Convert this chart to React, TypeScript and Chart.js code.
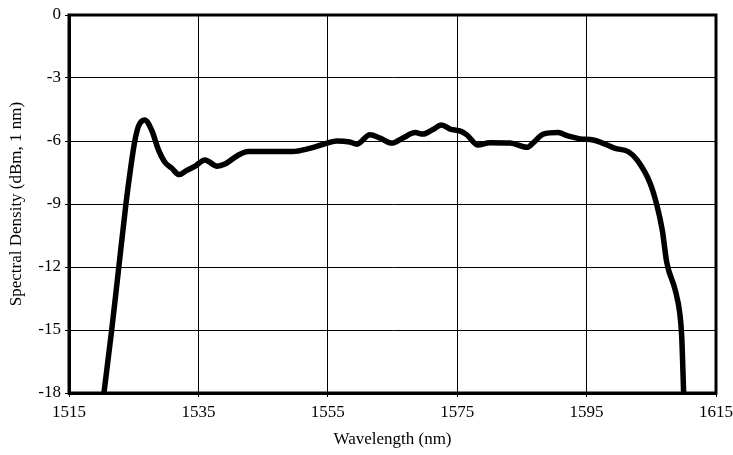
import React, { useEffect, useRef } from "react";
import { Chart, registerables } from "chart.js";

Chart.register(...registerables);

const wavelength: number[] = [
  1520.4, 1521.6, 1522.7, 1523.8, 1524.5, 1525.2, 1525.8, 1526.7, 1527.8, 1528.8,
  1529.8, 1530.9, 1532.0, 1533.2, 1534.5, 1536.0, 1537.9, 1539.1, 1541.0, 1542.7,
  1544.5, 1547.6, 1549.5, 1552.2, 1554.9, 1556.4, 1558.4, 1559.5, 1561.5,
  1563.1, 1564.9, 1566.6, 1568.5, 1569.7, 1571.1, 1572.6, 1573.9, 1575.4, 1576.5,
  1578.2, 1580.0, 1583.2, 1585.8, 1586.7, 1588.3, 1590.6, 1592.1, 1594.0, 1596.0,
  1597.1, 1599.4, 1601.4, 1602.8, 1604.8, 1605.9, 1606.7, 1607.4, 1608.7, 1609.4,
  1609.7, 1610.0,
];

const density: number[] = [
  -18, -15, -12, -9, -7.35, -5.95, -5.25, -5.0, -5.5, -6.4,
  -7.0, -7.3, -7.6, -7.4, -7.2, -6.9, -7.2, -7.1, -6.7, -6.5,
  -6.5, -6.5, -6.5, -6.35, -6.1, -6.0, -6.05, -6.15, -5.7,
  -5.86, -6.1, -5.86, -5.6, -5.67, -5.48, -5.24, -5.43, -5.52, -5.71,
  -6.19, -6.08, -6.1, -6.3, -6.1, -5.67, -5.6, -5.76, -5.9, -5.95,
  -6.05, -6.35, -6.5, -6.9, -8.0, -9.1, -10.25, -11.8, -13.1, -14.2,
  -15.3, -18,
];

const xMin = 1515;
const xMax = 1615;
const xStep = 20;
const yMin = -18;
const yMax = 0;
const yStep = 3;

const xTitle = "Wavelength (nm)";
const yTitle = "Spectral Density (dBm, 1 nm)";

const FONT = "'Liberation Serif', 'DejaVu Serif', serif";
const FSIZE = 17;

const frame = {
  id: "frame",
  afterDatasetsDraw(chart: any) {
    const { ctx, chartArea } = chart;
    ctx.save();
    ctx.strokeStyle = "#000";
    ctx.lineWidth = 3;
    ctx.strokeRect(
      chartArea.left,
      chartArea.top,
      chartArea.right - chartArea.left,
      chartArea.bottom - chartArea.top
    );
    ctx.restore();
  },
};

export default function App() {
  const ref = useRef<HTMLCanvasElement | null>(null);

  useEffect(() => {
    document.body.style.margin = "0";
    const canvas = ref.current;
    if (!canvas) return;
    const points = wavelength.map((x, i) => ({ x, y: density[i] }));
    const chart = new Chart(canvas, {
      type: "line",
      data: {
        datasets: [
          {
            data: points,
            borderColor: "#000",
            borderWidth: 5.5,
            pointRadius: 0,
            fill: false,
            cubicInterpolationMode: "monotone",
          },
        ],
      },
      options: {
        animation: false,
        responsive: false,
        maintainAspectRatio: false,
        layout: { padding: { left: 0, top: 15, right: 17, bottom: 0 } },
        plugins: {
          legend: { display: false },
          tooltip: { enabled: false },
        },
        scales: {
          x: {
            type: "linear",
            min: xMin,
            max: xMax,
            afterFit: (s: any) => {
              s.height = 62;
              s.paddingLeft = 0;
              s.paddingRight = 0;
            },
            ticks: {
              stepSize: xStep,
              color: "#000",
              font: { family: FONT, size: FSIZE },
              padding: 5,
              maxRotation: 0,
              callback: (v: any) => String(v),
            },
            grid: { color: "#000", lineWidth: 1, tickLength: 4 },
            border: { color: "#000", width: 3 },
            title: {
              display: true,
              text: xTitle,
              color: "#000",
              font: { family: FONT, size: FSIZE },
              padding: 5,
            },
          },
          y: {
            type: "linear",
            min: yMin,
            max: yMax,
            afterFit: (s: any) => {
              s.width = 69;
              s.paddingTop = 0;
              s.paddingBottom = 0;
            },
            ticks: {
              stepSize: yStep,
              color: "#000",
              font: { family: FONT, size: FSIZE },
              padding: 4,
              callback: (v: any) => String(v),
            },
            grid: { color: "#000", lineWidth: 1, tickLength: 4 },
            border: { color: "#000", width: 3 },
            title: {
              display: true,
              text: yTitle,
              color: "#000",
              font: { family: FONT, size: FSIZE },
              padding: 6,
            },
          },
        },
      } as any,
      plugins: [frame],
    });
    return () => chart.destroy();
  }, []);

  return (
    <div style={{ width: 733, height: 455, background: "#fff" }}>
      <canvas ref={ref} width={733} height={455} />
    </div>
  );
}
